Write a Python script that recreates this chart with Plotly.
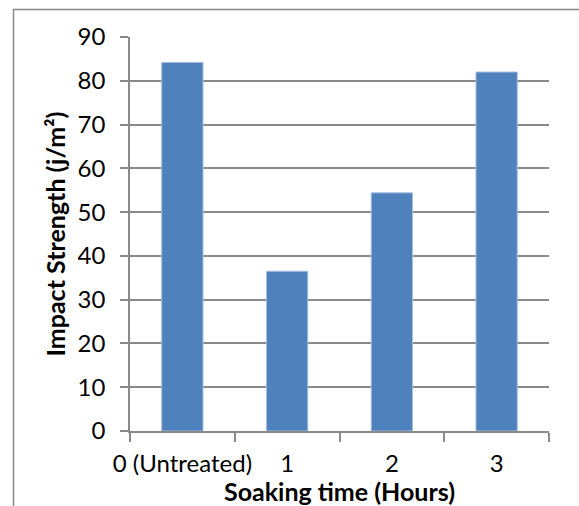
import plotly.graph_objects as go

categories = ["0 (Untreated)", "1", "2", "3"]
impact_strength = [84.2, 36.5, 54.4, 82.0]
y_tick_values = [0, 10, 20, 30, 40, 50, 60, 70, 80, 90]

x_title = "Soaking time (Hours)"
y_title = "Impact Strength (j/m²)"

FONT = "Lato"
GRID = "#8a8a8a"

fig = go.Figure()
fig.add_trace(go.Bar(
    x=categories,
    y=impact_strength,
    marker=dict(color="#4F81BD", line=dict(color="#a6bddf", width=1)),
))

fig.update_layout(
    width=579,
    height=506,
    margin=dict(l=130, r=30, t=37, b=75),
    paper_bgcolor="white",
    plot_bgcolor="white",
    showlegend=False,
    bargap=0.606,
    font=dict(family=FONT, color="#000000", size=24),
    shapes=[
        dict(type="rect", xref="paper", yref="paper",
             x0=-0.278, x1=1.2, y0=-0.3, y1=1.0698,
             line=dict(color="#878787", width=1.5), fillcolor="rgba(0,0,0,0)",
             layer="below"),
    ],
)

fig.update_xaxes(
    type="category",
    automargin=False,
    tickangle=0,
    showline=True, linecolor=GRID, linewidth=1.5,
    ticks="outside", tickson="boundaries", ticklen=9, tickcolor=GRID, tickwidth=1.5,
    ticklabelstandoff=10,
    showgrid=False,
    tickfont=dict(family=FONT, size=24),
    title=dict(text="<b>" + x_title + "</b>", font=dict(family=FONT, size=25), standoff=0),
)
fig.update_yaxes(
    automargin=False,
    range=[0, 90],
    tickvals=y_tick_values,
    showline=True, linecolor=GRID, linewidth=1.5,
    ticks="outside", ticklen=8, tickcolor=GRID, tickwidth=1.5,
    ticklabelstandoff=10,
    showgrid=True, gridcolor=GRID, gridwidth=1.5,
    zeroline=False,
    tickfont=dict(family=FONT, size=24),
    title=dict(text="<b>" + y_title + "</b>", font=dict(family=FONT, size=25), standoff=5),
)

fig.write_html("out.html")
